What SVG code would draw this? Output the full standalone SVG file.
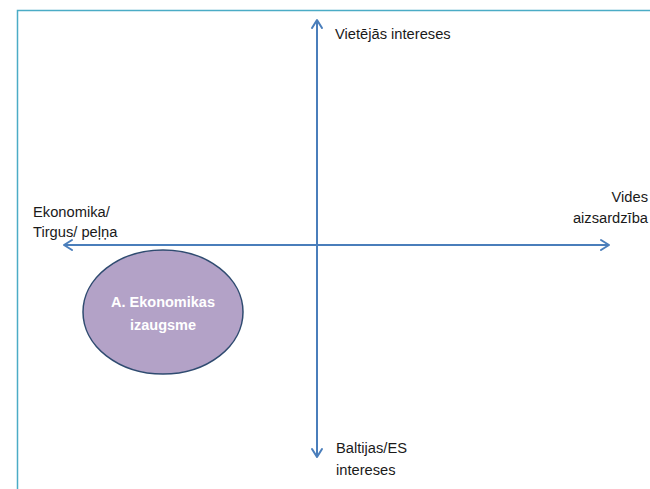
<svg xmlns="http://www.w3.org/2000/svg" width="650" height="489" viewBox="0 0 650 489">
<style>
.t{font-family:"Liberation Sans",Arial,sans-serif;font-size:14.7px;fill:#1a1a1a}
.w{font-family:"Liberation Sans",Arial,sans-serif;font-size:14.5px;font-weight:bold;fill:#ffffff}
.ax{stroke:#4a7ebb;stroke-width:2;fill:none}
.ah{stroke:#4a7ebb;stroke-width:2;fill:none;stroke-linecap:round;stroke-linejoin:round}
</style>
<rect x="0" y="0" width="650" height="489" fill="#ffffff"/>
<path d="M17.5 489 V10.5 H650" fill="none" stroke="#4bacc6" stroke-width="1.5"/>
<g id="connectors">
<line class="ax" x1="317" y1="21" x2="317" y2="456"/>
<polyline class="ah" points="312,28 317,20 322,28"/>
<polyline class="ah" points="312,449 317,457 322,449"/>
<line class="ax" x1="64" y1="245" x2="609" y2="245"/>
<polyline class="ah" points="72,240 64,245 72,250"/>
<polyline class="ah" points="601,240 609,245 601,250"/>
</g>
<g id="label-top"><text class="t" x="335" y="39">Vietējās intereses</text></g>
<g id="label-left"><text class="t" x="33" y="217">Ekonomika/</text><text class="t" x="33" y="237">Tirgus/ peļņa</text></g>
<g id="label-right"><text class="t" x="648" y="202" text-anchor="end">Vides</text><text class="t" x="648" y="223" text-anchor="end">aizsardzība</text></g>
<g id="label-bottom"><text class="t" x="336" y="453">Baltijas/ES</text><text class="t" x="336" y="475">intereses</text></g>
<g id="node-a">
<ellipse cx="163" cy="312" rx="80" ry="62" fill="#b3a2c7" stroke="#2f4b70" stroke-width="1.5"/>
<text class="w" x="163" y="307" text-anchor="middle">A. Ekonomikas</text>
<text class="w" x="163" y="330" text-anchor="middle">izaugsme</text>
</g>
</svg>
